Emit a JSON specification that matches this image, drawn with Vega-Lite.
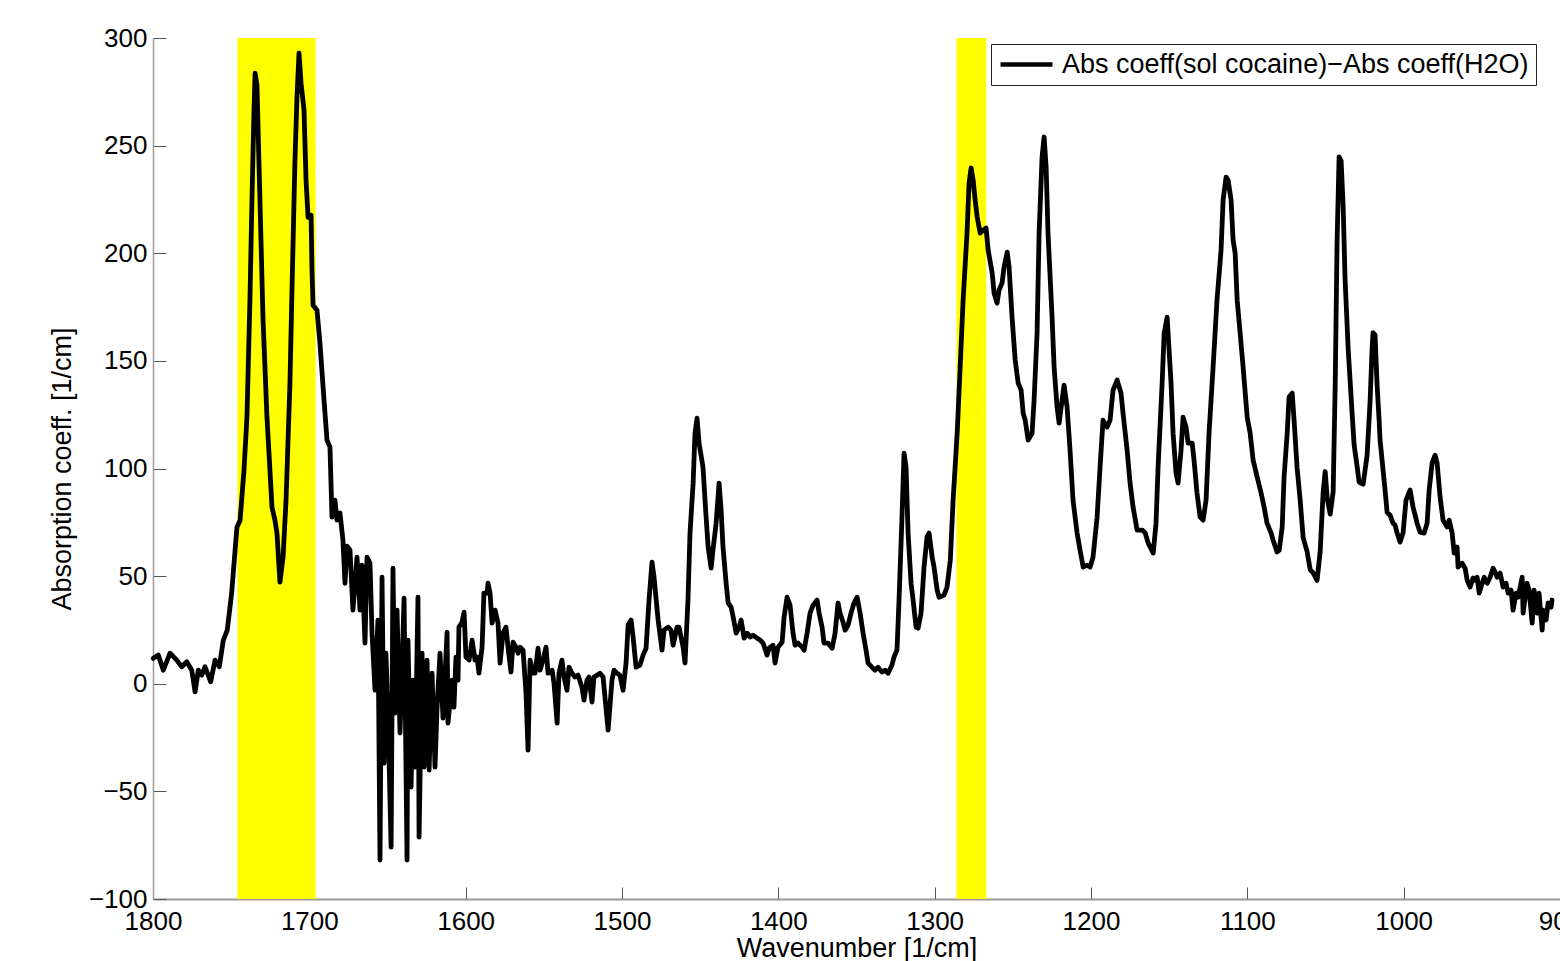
{
  "$schema": "https://vega.github.io/schema/vega-lite/v6.json",
  "autosize": {"type": "none"},
  "padding": {"left": 153, "top": 38, "right": 0, "bottom": 62},
  "width": 1407,
  "height": 861,
  "background": "white",
  "config": {
    "view": {"stroke": null},
    "font": "Liberation Sans",
    "axis": {
      "labelFont": "Liberation Sans",
      "titleFont": "Liberation Sans",
      "labelFontSize": 26,
      "titleFontSize": 27,
      "titleFontWeight": "normal",
      "labelColor": "#000000",
      "titleColor": "#000000",
      "grid": false,
      "domainColor": "#9a9a9a",
      "tickColor": "#555555",
      "labelFlush": false,
      "labelOverlap": false
    }
  },
  "datasets": {
    "bands": [
      {"from": 1746, "to": 1696},
      {"from": 1286, "to": 1267}
    ],
    "spectrum": [
      {"wn":1799.8,"coeff":11.8},{"wn":1796.6,"coeff":13.3},{"wn":1793.4,"coeff":6.3},{"wn":1789.1,"coeff":14.2},{"wn":1784.8,"coeff":11.0},{"wn":1781.6,"coeff":7.9},{"wn":1778.4,"coeff":10.2},{"wn":1775.2,"coeff":6.3},{"wn":1773.1,"coeff":-3.8},{"wn":1771.0,"coeff":6.3},{"wn":1768.8,"coeff":4.0},{"wn":1766.7,"coeff":7.9},{"wn":1763.1,"coeff":0.9},{"wn":1760.3,"coeff":11.0},{"wn":1757.6,"coeff":7.9},{"wn":1755.0,"coeff":20.3},{"wn":1752.5,"coeff":24.9},{"wn":1749.7,"coeff":42.1},{"wn":1748.0,"coeff":57.4},
      {"wn":1746.3,"coeff":72.7},{"wn":1744.3,"coeff":76.0},{"wn":1741.8,"coeff":99.2},{"wn":1739.9,"coeff":123.9},{"wn":1738.0,"coeff":178.2},{"wn":1736.7,"coeff":224.6},{"wn":1735.4,"coeff":266.5},{"wn":1734.7,"coeff":283.7},{"wn":1733.5,"coeff":278.1},{"wn":1731.6,"coeff":224.6},{"wn":1729.6,"coeff":168.9},{"wn":1727.1,"coeff":123.9},{"wn":1725.2,"coeff":99.2},{"wn":1723.9,"coeff":82.0},{"wn":1722.0,"coeff":76.0},{"wn":1720.7,"coeff":70.0},{"wn":1718.8,"coeff":47.2},{"wn":1716.8,"coeff":58.8},{"wn":1714.9,"coeff":85.3},{"wn":1712.4,"coeff":139.7},{"wn":1711.1,"coeff":182.9},{"wn":1709.2,"coeff":243.2},{"wn":1707.9,"coeff":272.5},{"wn":1706.6,"coeff":293.0},{"wn":1705.3,"coeff":279.0},{"wn":1703.4,"coeff":266.5},{"wn":1702.1,"coeff":233.9},{"wn":1700.8,"coeff":216.7},{"wn":1698.9,"coeff":217.6},{"wn":1698.3,"coeff":192.1},{"wn":1697.6,"coeff":175.8},{"wn":1695.1,"coeff":173.5},{"wn":1693.2,"coeff":158.2},{"wn":1690.6,"coeff":131.7},{"wn":1688.7,"coeff":113.2},{"wn":1686.8,"coeff":109.9},{"wn":1685.5,"coeff":77.4},{"wn":1683.6,"coeff":85.3},{"wn":1682.3,"coeff":76.0},{"wn":1680.4,"coeff":79.3},{"wn":1678.5,"coeff":66.7},{"wn":1677.2,"coeff":46.7},{"wn":1675.9,"coeff":63.9},{"wn":1674.0,"coeff":62.1},{"wn":1672.1,"coeff":34.2},{"wn":1669.5,"coeff":58.8},{"wn":1667.6,"coeff":34.2},{"wn":1666.3,"coeff":55.1},{"wn":1664.4,"coeff":18.9},{"wn":1663.1,"coeff":58.8},{"wn":1661.2,"coeff":56.0},{"wn":1659.9,"coeff":23.5},{"wn":1658.0,"coeff":-3.0},{"wn":1656.1,"coeff":29.6},{"wn":1654.8,"coeff":-81.9},{"wn":1653.5,"coeff":49.5},{"wn":1652.2,"coeff":-36.9},{"wn":1651.0,"coeff":14.2},{"wn":1649.7,"coeff":-13.6},{"wn":1647.7,"coeff":-75.9},{"wn":1646.5,"coeff":53.7},{"wn":1645.2,"coeff":-13.6},{"wn":1643.9,"coeff":34.2},{"wn":1642.0,"coeff":-22.9},{"wn":1640.7,"coeff":7.7},{"wn":1639.4,"coeff":39.8},{"wn":1637.5,"coeff":-81.9},{"wn":1636.9,"coeff":20.3},{"wn":1634.9,"coeff":-48.0},{"wn":1633.7,"coeff":1.7},{"wn":1632.4,"coeff":-38.7},{"wn":1630.5,"coeff":40.2},{"wn":1629.8,"coeff":-71.3},{"wn":1627.9,"coeff":14.2},{"wn":1626.6,"coeff":-38.7},{"wn":1624.7,"coeff":11.0},{"wn":1623.4,"coeff":-40.1},{"wn":1621.5,"coeff":4.9},{"wn":1619.6,"coeff":-38.7},{"wn":1618.3,"coeff":-10.9},{"wn":1616.4,"coeff":14.2},{"wn":1614.5,"coeff":-16.0},{"wn":1611.9,"coeff":24.0},{"wn":1611.3,"coeff":-18.3},{"wn":1608.7,"coeff":1.7},{"wn":1607.5,"coeff":-10.9},{"wn":1606.2,"coeff":12.4},{"wn":1604.9,"coeff":1.7},{"wn":1604.3,"coeff":26.3},{"wn":1602.3,"coeff":28.6},{"wn":1601.0,"coeff":33.3},{"wn":1599.8,"coeff":12.4},{"wn":1597.8,"coeff":11.0},{"wn":1595.9,"coeff":20.3},{"wn":1594.0,"coeff":11.0},{"wn":1592.7,"coeff":12.4},{"wn":1591.5,"coeff":4.9},{"wn":1589.5,"coeff":17.0},{"wn":1588.3,"coeff":42.1},{"wn":1586.3,"coeff":42.1},{"wn":1585.7,"coeff":46.7},{"wn":1584.4,"coeff":42.1},{"wn":1583.1,"coeff":28.2},{"wn":1581.2,"coeff":34.2},{"wn":1579.3,"coeff":28.2},{"wn":1578.0,"coeff":9.6},{"wn":1576.1,"coeff":23.5},{"wn":1574.2,"coeff":26.3},{"wn":1572.9,"coeff":17.0},{"wn":1571.0,"coeff":5.4},{"wn":1569.7,"coeff":19.3},{"wn":1567.8,"coeff":17.0},{"wn":1566.5,"coeff":14.2},{"wn":1565.2,"coeff":17.0},{"wn":1563.3,"coeff":15.6},{"wn":1561.4,"coeff":-4.4},{"wn":1560.1,"coeff":-30.8},{"wn":1558.8,"coeff":11.0},{"wn":1556.9,"coeff":4.9},{"wn":1555.6,"coeff":4.9},{"wn":1553.7,"coeff":16.5},{"wn":1552.4,"coeff":6.3},{"wn":1550.5,"coeff":11.0},{"wn":1548.6,"coeff":17.0},{"wn":1547.3,"coeff":4.9},{"wn":1544.7,"coeff":6.3},{"wn":1543.5,"coeff":0.3},{"wn":1541.5,"coeff":-18.3},{"wn":1540.3,"coeff":4.9},{"wn":1538.4,"coeff":11.0},{"wn":1537.1,"coeff":3.1},{"wn":1535.2,"coeff":-3.0},{"wn":1533.9,"coeff":7.7},{"wn":1532.0,"coeff":4.9},{"wn":1530.1,"coeff":3.1},{"wn":1528.1,"coeff":4.0},{"wn":1525.6,"coeff":-1.6},{"wn":1524.3,"coeff":-7.6},{"wn":1522.4,"coeff":1.7},{"wn":1521.1,"coeff":3.1},{"wn":1519.2,"coeff":-8.5},{"wn":1517.9,"coeff":3.1},{"wn":1516.0,"coeff":4.0},{"wn":1514.1,"coeff":4.9},{"wn":1512.1,"coeff":3.1},{"wn":1510.9,"coeff":-6.2},{"wn":1508.9,"coeff":-21.5},{"wn":1506.4,"coeff":1.7},{"wn":1505.1,"coeff":6.3},{"wn":1503.2,"coeff":4.9},{"wn":1501.3,"coeff":4.0},{"wn":1499.3,"coeff":-3.0},{"wn":1497.4,"coeff":9.6},{"wn":1496.1,"coeff":27.2},{"wn":1494.2,"coeff":29.6},{"wn":1492.9,"coeff":21.7},{"wn":1491.0,"coeff":7.7},{"wn":1488.5,"coeff":8.7},{"wn":1486.5,"coeff":13.3},{"wn":1484.6,"coeff":16.5},{"wn":1482.7,"coeff":38.9},{"wn":1480.8,"coeff":56.5},{"wn":1479.5,"coeff":49.5},{"wn":1476.9,"coeff":29.6},{"wn":1474.4,"coeff":15.6},{"wn":1473.1,"coeff":24.9},{"wn":1470.5,"coeff":26.3},{"wn":1468.6,"coeff":24.9},{"wn":1467.3,"coeff":17.9},{"wn":1464.8,"coeff":26.3},{"wn":1463.5,"coeff":26.3},{"wn":1460.9,"coeff":17.0},{"wn":1459.7,"coeff":9.6},{"wn":1457.8,"coeff":38.9},{"wn":1456.5,"coeff":70.0},{"wn":1454.5,"coeff":93.2},{"wn":1453.3,"coeff":116.4},{"wn":1452.0,"coeff":123.4},{"wn":1450.7,"coeff":111.8},{"wn":1448.2,"coeff":100.6},{"wn":1446.2,"coeff":77.4},{"wn":1444.9,"coeff":63.5},{"wn":1443.0,"coeff":53.7},{"wn":1441.8,"coeff":62.1},{"wn":1439.8,"coeff":74.6},{"wn":1437.9,"coeff":93.2},{"wn":1436.6,"coeff":80.7},{"wn":1435.4,"coeff":63.5},{"wn":1433.4,"coeff":46.7},{"wn":1432.1,"coeff":37.5},{"wn":1430.2,"coeff":35.6},{"wn":1428.9,"coeff":31.0},{"wn":1427.0,"coeff":23.5},{"wn":1425.1,"coeff":26.3},{"wn":1423.8,"coeff":29.6},{"wn":1421.9,"coeff":21.2},{"wn":1419.9,"coeff":23.5},{"wn":1418.0,"coeff":21.7},{"wn":1416.2,"coeff":22.6},{"wn":1413.6,"coeff":21.2},{"wn":1411.7,"coeff":20.3},{"wn":1409.8,"coeff":18.9},{"wn":1407.2,"coeff":13.3},{"wn":1405.9,"coeff":16.5},{"wn":1403.4,"coeff":17.9},{"wn":1402.1,"coeff":9.6},{"wn":1400.2,"coeff":17.0},{"wn":1397.6,"coeff":19.3},{"wn":1396.3,"coeff":31.0},{"wn":1394.4,"coeff":40.2},{"wn":1392.5,"coeff":36.5},{"wn":1390.6,"coeff":23.5},{"wn":1389.3,"coeff":17.9},{"wn":1387.4,"coeff":18.9},{"wn":1384.8,"coeff":17.0},{"wn":1383.5,"coeff":15.6},{"wn":1381.6,"coeff":23.5},{"wn":1379.7,"coeff":32.8},{"wn":1377.8,"coeff":36.5},{"wn":1375.2,"coeff":38.9},{"wn":1373.9,"coeff":32.8},{"wn":1372.0,"coeff":26.3},{"wn":1370.8,"coeff":18.9},{"wn":1368.2,"coeff":18.9},{"wn":1365.6,"coeff":16.5},{"wn":1363.7,"coeff":23.5},{"wn":1361.8,"coeff":37.5},{"wn":1360.5,"coeff":32.8},{"wn":1358.6,"coeff":28.6},{"wn":1357.3,"coeff":24.9},{"wn":1355.4,"coeff":27.2},{"wn":1353.5,"coeff":32.8},{"wn":1351.6,"coeff":37.5},{"wn":1349.6,"coeff":40.2},{"wn":1347.7,"coeff":32.8},{"wn":1345.8,"coeff":23.5},{"wn":1343.9,"coeff":15.6},{"wn":1342.6,"coeff":9.6},{"wn":1340.1,"coeff":7.7},{"wn":1338.1,"coeff":6.3},{"wn":1336.2,"coeff":7.7},{"wn":1333.7,"coeff":5.4},{"wn":1331.7,"coeff":6.3},{"wn":1329.8,"coeff":4.9},{"wn":1327.3,"coeff":8.7},{"wn":1326.0,"coeff":12.4},{"wn":1324.1,"coeff":15.6},{"wn":1322.8,"coeff":38.9},{"wn":1320.9,"coeff":77.4},{"wn":1319.6,"coeff":107.1},{"wn":1318.3,"coeff":100.6},{"wn":1317.0,"coeff":70.0},{"wn":1315.1,"coeff":46.7},{"wn":1313.8,"coeff":38.9},{"wn":1311.9,"coeff":26.3},{"wn":1310.6,"coeff":25.8},{"wn":1308.7,"coeff":32.8},{"wn":1306.8,"coeff":54.2},{"wn":1304.9,"coeff":68.1},{"wn":1303.6,"coeff":70.0},{"wn":1301.6,"coeff":58.8},{"wn":1300.4,"coeff":54.2},{"wn":1298.4,"coeff":43.5},{"wn":1297.2,"coeff":40.2},{"wn":1294.0,"coeff":41.2},{"wn":1292.1,"coeff":44.9},{"wn":1290.0,"coeff":57.4},{"wn":1288.2,"coeff":85.3},{"wn":1285.6,"coeff":116.4},{"wn":1283.7,"coeff":147.1},{"wn":1281.8,"coeff":178.2},{"wn":1279.3,"coeff":209.4},{"wn":1278.0,"coeff":232.6},{"wn":1276.7,"coeff":239.6},{"wn":1275.4,"coeff":234.0},{"wn":1274.1,"coeff":224.7},{"wn":1272.8,"coeff":216.8},{"wn":1270.9,"coeff":209.4},{"wn":1269.0,"coeff":210.7},{"wn":1267.1,"coeff":211.7},{"wn":1265.8,"coeff":201.5},{"wn":1263.2,"coeff":190.8},{"wn":1262.0,"coeff":181.5},{"wn":1260.1,"coeff":176.8},{"wn":1258.8,"coeff":182.9},{"wn":1256.9,"coeff":186.1},{"wn":1255.6,"coeff":193.6},{"wn":1253.6,"coeff":200.5},{"wn":1252.4,"coeff":193.6},{"wn":1250.5,"coeff":170.3},{"wn":1248.5,"coeff":150.4},{"wn":1246.6,"coeff":139.7},{"wn":1244.7,"coeff":136.4},{"wn":1243.4,"coeff":125.7},{"wn":1242.1,"coeff":122.5},{"wn":1240.2,"coeff":113.2},{"wn":1237.7,"coeff":116.4},{"wn":1236.4,"coeff":131.8},{"wn":1234.5,"coeff":162.9},{"wn":1233.2,"coeff":209.4},{"wn":1231.3,"coeff":244.7},{"wn":1230.0,"coeff":254.0},{"wn":1228.7,"coeff":240.0},{"wn":1227.5,"coeff":209.4},{"wn":1224.9,"coeff":170.3},{"wn":1223.6,"coeff":147.1},{"wn":1221.7,"coeff":128.5},{"wn":1220.4,"coeff":121.1},{"wn":1218.5,"coeff":131.8},{"wn":1217.2,"coeff":138.7},{"wn":1215.3,"coeff":128.5},{"wn":1213.4,"coeff":108.5},{"wn":1211.5,"coeff":85.3},{"wn":1208.9,"coeff":70.0},{"wn":1207.0,"coeff":62.1},{"wn":1205.0,"coeff":54.2},{"wn":1202.5,"coeff":55.1},{"wn":1200.6,"coeff":54.2},{"wn":1198.7,"coeff":58.8},{"wn":1196.1,"coeff":77.4},{"wn":1194.2,"coeff":100.6},{"wn":1192.3,"coeff":122.5},{"wn":1189.7,"coeff":119.2},{"wn":1187.8,"coeff":122.5},{"wn":1185.9,"coeff":136.4},{"wn":1183.3,"coeff":141.1},{"wn":1180.8,"coeff":135.0},{"wn":1179.5,"coeff":125.7},{"wn":1176.9,"coeff":108.5},{"wn":1175.0,"coeff":93.2},{"wn":1173.1,"coeff":82.1},{"wn":1170.5,"coeff":71.4},{"wn":1167.3,"coeff":71.4},{"wn":1165.3,"coeff":70.0},{"wn":1163.4,"coeff":65.3},{"wn":1160.2,"coeff":60.7},{"wn":1158.4,"coeff":74.6},{"wn":1157.1,"coeff":100.6},{"wn":1154.5,"coeff":139.7},{"wn":1153.2,"coeff":162.9},{"wn":1151.3,"coeff":170.3},{"wn":1150.7,"coeff":162.9},{"wn":1148.8,"coeff":139.7},{"wn":1147.5,"coeff":116.4},{"wn":1145.6,"coeff":97.9},{"wn":1144.3,"coeff":93.2},{"wn":1142.4,"coeff":108.5},{"wn":1141.1,"coeff":123.9},{"wn":1139.2,"coeff":119.2},{"wn":1137.9,"coeff":111.8},{"wn":1135.3,"coeff":111.8},{"wn":1134.1,"coeff":103.9},{"wn":1132.2,"coeff":88.6},{"wn":1130.2,"coeff":77.4},{"wn":1128.3,"coeff":76.0},{"wn":1126.4,"coeff":85.3},{"wn":1124.5,"coeff":116.4},{"wn":1121.9,"coeff":147.1},{"wn":1119.4,"coeff":178.2},{"wn":1116.8,"coeff":201.5},{"wn":1115.5,"coeff":224.7},{"wn":1113.6,"coeff":235.4},{"wn":1112.3,"coeff":234.0},{"wn":1110.4,"coeff":224.7},{"wn":1109.1,"coeff":206.1},{"wn":1107.8,"coeff":200.1},{"wn":1106.5,"coeff":178.2},{"wn":1104.6,"coeff":162.9},{"wn":1102.7,"coeff":147.1},{"wn":1100.1,"coeff":123.9},{"wn":1098.2,"coeff":116.4},{"wn":1096.3,"coeff":103.9},{"wn":1093.7,"coeff":96.0},{"wn":1091.2,"coeff":88.6},{"wn":1089.3,"coeff":82.1},{"wn":1087.4,"coeff":74.6},{"wn":1084.8,"coeff":70.0},{"wn":1083.5,"coeff":66.7},{"wn":1081.0,"coeff":61.2},{"wn":1079.6,"coeff":62.1},{"wn":1077.7,"coeff":72.8},{"wn":1076.5,"coeff":96.0},{"wn":1074.5,"coeff":116.4},{"wn":1073.3,"coeff":133.2},{"wn":1071.3,"coeff":135.0},{"wn":1070.1,"coeff":122.5},{"wn":1068.2,"coeff":100.6},{"wn":1066.2,"coeff":85.3},
      {"wn":1064.3,"coeff":67.9},{"wn":1061.8,"coeff":61.5},{"wn":1059.8,"coeff":53.0},{"wn":1057.9,"coeff":51.5},{"wn":1055.4,"coeff":48.0},{"wn":1053.4,"coeff":61.5},{"wn":1051.5,"coeff":89.2},{"wn":1050.2,"coeff":98.6},{"wn":1048.9,"coeff":86.2},{"wn":1047.0,"coeff":78.8},{"wn":1045.1,"coeff":89.2},{"wn":1043.8,"coeff":138.8},{"wn":1042.6,"coeff":205.2},{"wn":1041.3,"coeff":244.8},{"wn":1040.0,"coeff":242.9},{"wn":1038.7,"coeff":221.6},{"wn":1037.5,"coeff":188.4},{"wn":1035.5,"coeff":155.6},{"wn":1033.0,"coeff":125.9},{"wn":1031.7,"coeff":111.0},{"wn":1029.8,"coeff":101.1},{"wn":1028.5,"coeff":93.7},{"wn":1025.9,"coeff":92.7},{"wn":1024.7,"coeff":99.2},{"wn":1023.4,"coeff":106.1},{"wn":1021.5,"coeff":130.8},{"wn":1020.2,"coeff":155.6},{"wn":1019.6,"coeff":163.1},{"wn":1018.3,"coeff":162.1},{"wn":1017.0,"coeff":138.8},{"wn":1015.7,"coeff":122.4},{"wn":1015.1,"coeff":113.2},
      {"wn":1011.9,"coeff":90.0},{"wn":1010.6,"coeff":79.7},{"wn":1008.7,"coeff":78.3},{"wn":1006.8,"coeff":74.6},{"wn":1005.5,"coeff":73.7},{"wn":1004.2,"coeff":70.0},{"wn":1002.3,"coeff":65.8},{"wn":1000.4,"coeff":70.0},{"wn":998.5,"coeff":85.3},{"wn":995.9,"coeff":90.0},{"wn":994.0,"coeff":82.1},{"wn":991.4,"coeff":74.6},{"wn":989.5,"coeff":70.4},{"wn":986.9,"coeff":70.0},{"wn":985.0,"coeff":74.6},{"wn":983.7,"coeff":90.0},{"wn":981.8,"coeff":102.5},{"wn":979.9,"coeff":106.2},{"wn":978.6,"coeff":102.5},{"wn":976.7,"coeff":86.7},{"wn":974.8,"coeff":76.0},{"wn":972.2,"coeff":72.8},{"wn":970.9,"coeff":76.0},{"wn":969.0,"coeff":70.0},{"wn":967.7,"coeff":60.7},{"wn":965.8,"coeff":63.5},{"wn":965.2,"coeff":54.2},{"wn":962.6,"coeff":56.0},{"wn":960.7,"coeff":53.7},{"wn":959.4,"coeff":48.1},{"wn":957.5,"coeff":44.9},{"wn":955.6,"coeff":49.1},{"wn":954.3,"coeff":48.1},{"wn":953.0,"coeff":49.5},{"wn":951.7,"coeff":42.1},{"wn":949.8,"coeff":46.7},{"wn":948.5,"coeff":49.5},{"wn":946.6,"coeff":46.7},{"wn":944.7,"coeff":49.5},{"wn":942.8,"coeff":53.7},{"wn":941.5,"coeff":51.9},{"wn":940.2,"coeff":49.5},{"wn":938.3,"coeff":51.4},{"wn":936.4,"coeff":44.9},{"wn":934.5,"coeff":46.7},{"wn":933.2,"coeff":42.1},{"wn":931.3,"coeff":43.5},{"wn":930.0,"coeff":34.2},{"wn":928.1,"coeff":42.1},{"wn":926.8,"coeff":40.2},{"wn":924.2,"coeff":49.5},{"wn":923.6,"coeff":32.8},{"wn":921.1,"coeff":46.7},{"wn":919.8,"coeff":43.5},{"wn":917.8,"coeff":28.2},{"wn":916.6,"coeff":43.5},{"wn":914.7,"coeff":32.8},{"wn":913.4,"coeff":42.1},{"wn":911.4,"coeff":24.9},{"wn":910.8,"coeff":34.2},{"wn":908.9,"coeff":29.6},{"wn":907.6,"coeff":37.5},{"wn":905.7,"coeff":35.6},{"wn":905.1,"coeff":38.9}
    ]
  },
  "layer": [
    {
      "data": {"name": "bands"},
      "mark": {"type": "rect", "color": "#ffff00", "opacity": 1},
      "encoding": {
        "x": {"field": "from", "type": "quantitative"},
        "x2": {"field": "to"}
      }
    },
    {
      "data": {"name": "spectrum"},
      "mark": {"type": "line", "strokeWidth": 4.8, "strokeJoin": "round", "strokeCap": "round"},
      "encoding": {
        "x": {
          "field": "wn",
          "type": "quantitative",
          "scale": {"domain": [900, 1800], "reverse": true, "nice": false, "zero": false},
          "axis": {
            "title": "Wavenumber [1/cm]",
            "values": [1800, 1700, 1600, 1500, 1400, 1300, 1200, 1100, 1000, 900],
            "format": "d",
            "tickSize": -12,
            "labelPadding": 21,
            "domainWidth": 2,
            "titlePadding": 1
          }
        },
        "y": {
          "field": "coeff",
          "type": "quantitative",
          "scale": {"domain": [-100, 300], "nice": false, "zero": false},
          "axis": {
            "title": "Absorption coeff. [1/cm]",
            "values": [-100, -50, 0, 50, 100, 150, 200, 250, 300],
            "tickSize": -13,
            "labelPadding": 19,
            "domainWidth": 1.5,
            "titlePadding": 12
          }
        },
        "order": {"field": "wn", "sort": "descending"},
        "color": {
          "datum": "Abs coeff(sol cocaine)−Abs coeff(H2O)",
          "type": "nominal",
          "scale": {"range": ["#000000"]},
          "legend": {
            "title": null,
            "orient": "none",
            "legendX": 838,
            "legendY": 6,
            "strokeColor": "#222222",
            "fillColor": "#ffffff",
            "padding": 7,
            "clipHeight": 27,
            "symbolType": "stroke",
            "symbolSize": 2704,
            "symbolStrokeWidth": 4.5,
            "symbolStrokeColor": "#000000",
            "labelFontSize": 27,
            "labelFont": "Liberation Sans",
            "labelColor": "#000000",
            "labelOffset": 7,
            "labelLimit": 0
          }
        }
      }
    }
  ]
}
